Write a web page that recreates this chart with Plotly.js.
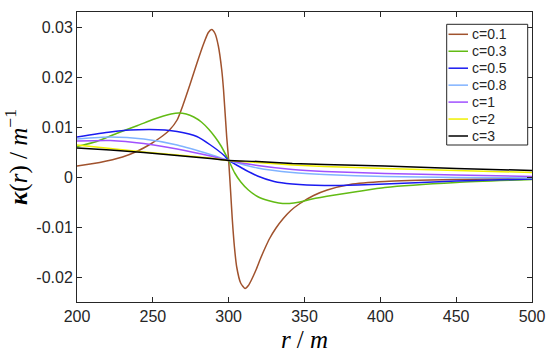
<!DOCTYPE html>
<html>
<head>
<meta charset="utf-8">
<script src="https://cdn.plot.ly/plotly-3.0.1.min.js"></script>
<style>html,body{margin:0;padding:0;background:#fff;}#chart{width:550px;height:357px;}</style>
</head>
<body>
<div id="chart"></div>
<script>
// Series names (legend labels)
const seriesNames = ["c=0.1", "c=0.3", "c=0.5", "c=0.8", "c=1", "c=2", "c=3"];

// c = 0.1
const r01 = [200, 215, 230, 240, 248, 255, 261, 266, 270, 274.5, 279, 283.3, 286.6, 288.8, 291, 293.2, 295.4, 296.6, 298.7, 300, 301.3, 302.4, 303.8, 305.3, 307.9, 310.8, 313, 315, 318, 321, 324, 327, 331, 336, 341, 347, 356, 365, 380, 403, 450, 500];
const k01 = [0.0022, 0.0029, 0.0040, 0.0052, 0.0065, 0.0079, 0.0094, 0.0114, 0.0145, 0.0185, 0.0227, 0.0265, 0.0289, 0.0295, 0.0287, 0.0262, 0.0215, 0.0175, 0.0080, 0.0033, -0.0030, -0.0085, -0.0140, -0.0180, -0.0212, -0.0223, -0.0217, -0.0206, -0.0186, -0.0163, -0.0142, -0.0123, -0.0103, -0.0083, -0.0067, -0.0053, -0.0037, -0.0026, -0.0015, -0.0009, -0.0005, -0.0003];

// c = 0.3
const r03 = [200, 213, 226, 240, 250, 257, 262, 267, 272, 277, 282, 287, 291, 295, 300, 304, 308, 313, 319, 326, 333, 340, 347, 355, 370, 385, 403, 450, 500];
const k03 = [0.0061, 0.0071, 0.0087, 0.0103, 0.0115, 0.0122, 0.0126, 0.0128, 0.0126, 0.0120, 0.0110, 0.0095, 0.0080, 0.0062, 0.0033, 0.0008, -0.0010, -0.0026, -0.0039, -0.0047, -0.0052, -0.0053, -0.0050, -0.0044, -0.0036, -0.0029, -0.0021, -0.0011, -0.0005];

// c = 0.5
const r05 = [200, 222, 235, 248, 258, 266, 279, 288, 297, 300, 304, 311, 319, 330, 342, 363, 385, 403, 450, 500];
const k05 = [0.0080, 0.0090, 0.0094, 0.0095, 0.0094, 0.0091, 0.0081, 0.0064, 0.0043, 0.0033, 0.0026, 0.0014, 0.0002, -0.0009, -0.0014, -0.0017, -0.0016, -0.0014, -0.0008, -0.0004];

// shared radii for smooth curves c = 0.8 .. 3
const rSmooth = [200, 222, 244, 266, 288, 300, 319, 342, 363, 403, 450, 500];
const k08 = [0.0076, 0.0080, 0.0076, 0.0064, 0.0045, 0.0033, 0.0018, 0.0009, 0.0005, 0.0001, -0.0001, -0.0002];
const k1  = [0.0072, 0.0073, 0.0067, 0.0056, 0.0042, 0.0033, 0.0023, 0.0015, 0.0011, 0.0007, 0.0004, 0.0001];
const k2  = [0.0064, 0.0057, 0.0050, 0.0044, 0.0038, 0.0033, 0.0029, 0.0024, 0.0021, 0.0017, 0.0013, 0.0009];
const k3  = [0.0058, 0.0054, 0.0049, 0.0043, 0.0037, 0.0033, 0.0031, 0.0027, 0.0025, 0.0022, 0.0017, 0.0013];

// axis ticks
const xTicks = [200, 250, 300, 350, 400, 450, 500];
const yTickVals = [-0.02, -0.01, 0, 0.01, 0.02, 0.03];
const yTickText = ["-0.02", "-0.01", "0", "0.01", "0.02", "0.03"];

const colors = ["#A0522D", "#62BB14", "#1A1AF0", "#80B3FF", "#A050FF", "#F0F000", "#000000"];
const xs = [r01, r03, r05, rSmooth, rSmooth, rSmooth, rSmooth];
const ys = [k01, k03, k05, k08, k1, k2, k3];

const traces = seriesNames.map((n, i) => ({
  x: xs[i], y: ys[i], name: n, type: "scatter", mode: "lines",
  line: {color: colors[i], width: 1.5, shape: "spline", smoothing: 0.6}
}));

// plot geometry (pixels) for the hand-built legend box
const W = 550, H = 357, ML = 77, MR = 18, MT = 12, MB = 55;
const PW = W - ML - MR, PH = H - MT - MB;
const px = v => (v - ML) / PW;          // pixel x -> paper x
const py = v => (H - MB - v) / PH;      // pixel y -> paper y

const legBox = {x0: 446.7, x1: 527.7, y0: 24.3, y1: 145};
const legLine = {x0: 448.5, x1: 468};
const legText = 469.5, legFirst = 34.3, legStep = 16.95;

const shapes = [{
  type: "rect", xref: "paper", yref: "paper", layer: "above",
  x0: px(legBox.x0), x1: px(legBox.x1), y0: py(legBox.y1), y1: py(legBox.y0),
  line: {color: "#262626", width: 1}, fillcolor: "#ffffff"
}];
const annotations = [];
seriesNames.forEach((n, i) => {
  const yc = legFirst + i * legStep;
  shapes.push({type: "line", xref: "paper", yref: "paper", layer: "above",
    x0: px(legLine.x0), x1: px(legLine.x1), y0: py(yc), y1: py(yc),
    line: {color: colors[i], width: 1.5}});
  annotations.push({xref: "paper", yref: "paper", x: px(legText), y: py(yc),
    xanchor: "left", yanchor: "middle", showarrow: false, text: n,
    font: {family: "Liberation Sans, Arial, sans-serif", size: 14, color: "#262626"}});
});

const axisCommon = {
  showline: true, linecolor: "#262626", linewidth: 1, mirror: "ticks",
  ticks: "inside", ticklen: 5, tickcolor: "#262626", tickwidth: 1,
  showgrid: false, zeroline: false,
  tickfont: {family: "Liberation Sans, Arial, sans-serif", size: 16, color: "#262626"}
};

const layout = {
  width: W, height: H,
  margin: {l: ML, r: MR, t: MT, b: MB},
  paper_bgcolor: "#fff", plot_bgcolor: "#fff",
  showlegend: false,
  xaxis: Object.assign({}, axisCommon, {
    range: [200, 500], tickvals: xTicks,
    title: {text: "<i>r</i> / <i>m</i>", font: {family: "Liberation Serif, Times New Roman, serif", size: 25, color: "#000"}, standoff: 6}
  }),
  yaxis: Object.assign({}, axisCommon, {
    range: [-0.025, 0.033], tickvals: yTickVals, ticktext: yTickText,
    title: {text: "<b><i>κ</i></b>(<i>r</i>) / <i>m</i><sup>−1</sup>", font: {family: "Liberation Serif, Times New Roman, serif", size: 25, color: "#000"}, standoff: 6}
  }),
  shapes: shapes,
  annotations: annotations
};

Plotly.newPlot("chart", traces, layout, {displayModeBar: false, staticPlot: true});
</script>
</body>
</html>
